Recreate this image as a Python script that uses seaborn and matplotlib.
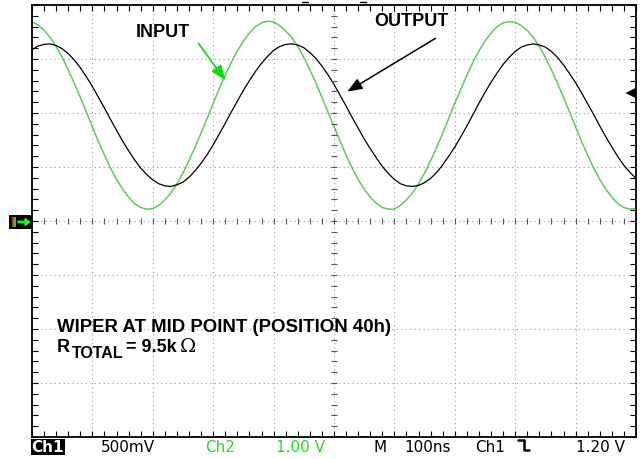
import matplotlib
matplotlib.use("Agg")
import matplotlib.pyplot as plt
import matplotlib.patches as mpatches
from matplotlib.lines import Line2D
import numpy as np
import pandas as pd
import seaborn as sns

# time base: 100 ns/div, 10 divisions; traces in screen divisions above ground
time_ns = np.arange(0, 1001, 10)
ch2_input_div = [
    3.69, 3.63, 3.53, 3.40, 3.23, 3.03, 2.80, 2.55, 2.29, 2.02,
    1.74, 1.47, 1.22, 0.98, 0.77, 0.59, 0.44, 0.32, 0.25, 0.22,
    0.23, 0.29, 0.39, 0.52, 0.69, 0.89, 1.12, 1.37, 1.63, 1.90,
    2.18, 2.45, 2.70, 2.94, 3.15, 3.33, 3.48, 3.60, 3.67, 3.70,
    3.69,
    3.62, 3.52, 3.40, 3.23, 3.03, 2.80, 2.56, 2.29, 2.02, 1.75,
    1.48, 1.22, 0.98, 0.77, 0.59, 0.44, 0.33, 0.25, 0.22, 0.22,
    0.29, 0.39, 0.52, 0.69, 0.89, 1.12, 1.36, 1.63, 1.90, 2.18,
    2.44, 2.70, 2.94, 3.15, 3.33, 3.48, 3.60, 3.67, 3.69, 3.68,
    3.62, 3.53, 3.40, 3.23, 3.03, 2.80, 2.55, 2.29, 2.02, 1.74,
    1.47, 1.22, 0.98, 0.77, 0.59, 0.44, 0.32, 0.25, 0.22, 0.23,
]
ch1_output_div = [
    3.17, 3.24, 3.27, 3.28, 3.25, 3.19, 3.10, 2.98, 2.84, 2.67,
    2.49, 2.29, 2.09, 1.88, 1.68, 1.48, 1.30, 1.13, 0.98, 0.86,
    0.76,
    0.69, 0.65, 0.64, 0.67, 0.72, 0.81, 0.93, 1.07, 1.23, 1.41,
    1.61, 1.81, 2.02, 2.22, 2.42, 2.60, 2.77, 2.92, 3.05, 3.16,
    3.23, 3.27, 3.28, 3.26, 3.21, 3.12, 3.01, 2.87, 2.71, 2.53,
    2.33, 2.13, 1.92, 1.72, 1.52, 1.34, 1.17, 1.01, 0.88, 0.77,
    0.69, 0.65, 0.64, 0.66, 0.71, 0.79, 0.90, 1.04, 1.20, 1.37,
    1.56, 1.76, 1.97, 2.18, 2.38, 2.57, 2.74, 2.90, 3.03, 3.14,
    3.22, 3.26, 3.28, 3.26, 3.22, 3.14, 3.03, 2.89, 2.73, 2.56,
    2.37, 2.17, 1.97, 1.76, 1.56, 1.37, 1.19, 1.03, 0.90, 0.79,
]
trigger_div = 2.37

status_labels = ["500mV", "Ch2", "1.00 V", "M", "100ns", "Ch1", "1.20 V"]

GREEN = "#5ccb5c"
BRIGHT_GREEN = "#22dd22"

sns.set_style("white")
plt.rcParams["font.family"] = ["Liberation Sans", "DejaVu Sans"]
plt.rcParams["text.color"] = "black"

df = pd.DataFrame({"t": time_ns, "input": ch2_input_div, "output": ch1_output_div})

fig = plt.figure(figsize=(6.42, 4.59), dpi=100)
W, H = 642, 459
ax = fig.add_axes([32 / W, 1 - 437 / H, 604 / W, 432 / H])

sns.lineplot(data=df, x="t", y="input", ax=ax, color=GREEN, lw=1.1)
sns.lineplot(data=df, x="t", y="output", ax=ax, color="black", lw=0.9)

ax.set_xlim(0, 1000)
ax.set_ylim(-4, 4)
ax.set_xticks(np.arange(0, 1001, 100))
ax.set_yticks(np.arange(-4, 5, 1))
ax.set_xticks(np.arange(0, 1001, 20), minor=True)
ax.set_yticks(np.arange(-4, 4.01, 0.2), minor=True)
ax.set_xticklabels([])
ax.set_yticklabels([])
ax.set_xlabel("")
ax.set_ylabel("")
ax.tick_params(which="both", direction="in", length=4, width=0.8,
               top=True, right=True, bottom=True, left=True, color="black")
ax.grid(True, which="major", color="#999999", lw=0.8, ls=(0, (1, 3)))
for sp in ax.spines.values():
    sp.set_color("black")
    sp.set_linewidth(1.3)

# centre graticule with minor ticks
minor_x = np.arange(0, 1001, 20)
minor_y = np.arange(-4, 4.01, 0.2)
ax.plot(minor_x, np.zeros_like(minor_x), ls="none", marker="|", ms=5,
        color="#555555", mew=0.8)
ax.plot(np.full_like(minor_y, 500), minor_y, ls="none", marker="_", ms=5,
        color="#555555", mew=0.8)

# annotations
BIG = 13
ax.text(217, 3.50, "INPUT", fontsize=BIG, fontweight="bold", ha="center", va="center")
ax.annotate("", xy=(323, 2.56), xytext=(273, 3.33),
            arrowprops=dict(arrowstyle="-|>,head_length=0.9,head_width=0.35",
                            color="#11dd11", lw=1.3))
ax.text(629, 3.69, "OUTPUT", fontsize=BIG, fontweight="bold", ha="center", va="center")
ax.annotate("", xy=(518, 2.37), xytext=(672, 3.41),
            arrowprops=dict(arrowstyle="-|>,head_length=0.9,head_width=0.35",
                            color="black", lw=1.1))

def px_text(x, y, s, **kw):
    fig.text(x / W, 1 - y / H, s, **kw)

px_text(57, 328, "WIPER AT MID POINT (POSITION 40h)", fontsize=13.4,
        fontweight="bold", va="center")
px_text(57, 348, "R", fontsize=BIG, fontweight="bold", va="center")
px_text(72, 353, "TOTAL", fontsize=11.5, fontweight="bold", va="center")
px_text(126, 347, "= 9.5k", fontsize=BIG, fontweight="bold", va="center")
px_text(180, 347, "\u03a9", fontsize=14, family="DejaVu Serif", va="center")

# trigger level marker on right edge
ax.annotate("", xy=(978, trigger_div), xytext=(1002, trigger_div), annotation_clip=False,
            arrowprops=dict(arrowstyle="-|>,head_length=0.6,head_width=0.3",
                            color="black", lw=1.0))

# ground marker on left
fig.add_artist(mpatches.Rectangle((9, H - 229), 23, 14, transform=None,
                                  facecolor="black", edgecolor="none", zorder=3))
fig.add_artist(mpatches.Rectangle((12, H - 227), 2, 10, transform=None,
                                  facecolor="#cc3333", edgecolor="none", zorder=4))
fig.add_artist(mpatches.Rectangle((14, H - 227), 2, 10, transform=None,
                                  facecolor="#33cc33", edgecolor="none", zorder=4))
fig.add_artist(mpatches.FancyArrow(18, H - 222, 7, 0, width=1.5, head_width=7,
                                   head_length=5, color="#22ee22", transform=None,
                                   zorder=5))

# status line
ty = 1 - 447 / H
fig.text(48 / W, ty, "Ch1", color="white", fontsize=11, family="DejaVu Sans",
         fontweight="bold", ha="center", va="center",
         bbox=dict(boxstyle="square,pad=0.02", fc="black", ec="none"))
xs = [128, 220, 300, 380, 428, 490, 601]
colors = ["black", BRIGHT_GREEN, BRIGHT_GREEN, "black", "black", "black", "black"]
for lab, x, c in zip(status_labels, xs, colors):
    fig.text(x / W, ty, lab, color=c, fontsize=11, family="DejaVu Sans",
             ha="center", va="center")
fig.add_artist(Line2D([518, 524, 524, 529], [H - 440, H - 440, H - 450, H - 450],
                      transform=None, color="black", lw=1.8))

# trigger position marks above the screen
fig.add_artist(Line2D([302, 308], [H - 2, H - 2], transform=None, color="black", lw=1))
fig.add_artist(Line2D([360, 366], [H - 2, H - 2], transform=None, color="black", lw=1))

fig.savefig("out.png", dpi=100)
